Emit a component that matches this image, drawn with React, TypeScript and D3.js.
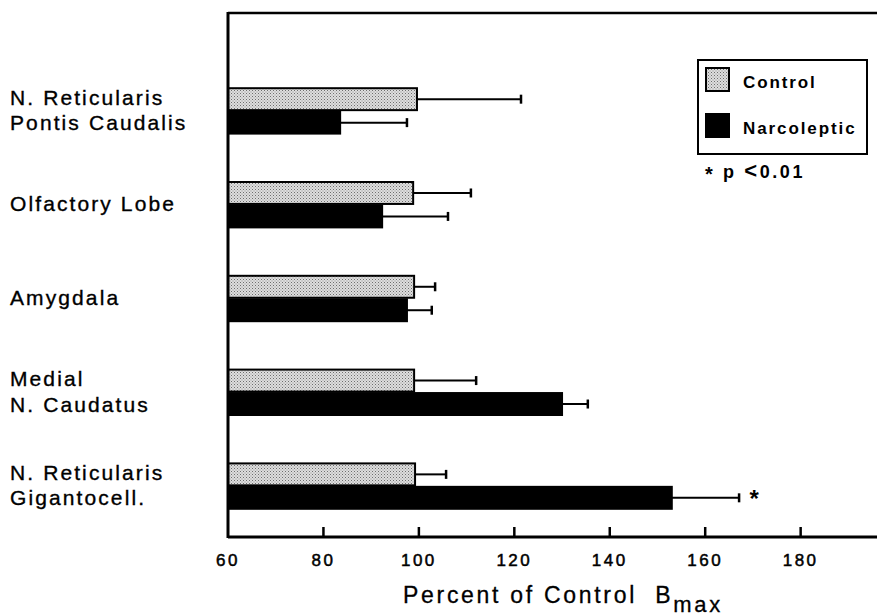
import React from "react";
import * as d3 from "d3";

const categories = [
  ["N. Reticularis", "Pontis Caudalis"],
  ["Olfactory Lobe"],
  ["Amygdala"],
  ["Medial", "N. Caudatus"],
  ["N. Reticularis", "Gigantocell."],
];
const controlValues = [99.6, 98.8, 99.0, 99.0, 99.2];
const controlErrors = [21.8, 12.1, 4.4, 13.0, 6.5];
const narcolepticValues = [83.5, 92.3, 97.5, 130.0, 153.0];
const narcolepticErrors = [14.0, 13.8, 5.2, 5.4, 14.1];
const significant = [false, false, false, false, true];
const xTicks = [60, 80, 100, 120, 140, 160, 180];
const seriesNames = ["Control", "Narcoleptic"];

const W = 877;
const H = 616;
const FONT = "'Liberation Sans', Arial, Helvetica, sans-serif";

export default function App() {
  const x = d3.scaleLinear().domain([60, 196]).range([228, 877]);
  const y = d3
    .scaleBand<number>()
    .domain(d3.range(categories.length))
    .range([64, 533])
    .paddingInner(0.5)
    .paddingOuter(0.25);
  const sub = d3
    .scaleBand<number>()
    .domain([0, 1])
    .range([0, y.bandwidth()]);

  const axisY = 537;
  const topY = 13;
  const x0 = x(60);

  const series = [
    { vals: controlValues, errs: controlErrors, fill: "url(#stipple)" },
    { vals: narcolepticValues, errs: narcolepticErrors, fill: "#000" },
  ];

  return (
    <svg
      width={W}
      height={H}
      style={{ position: "absolute", left: 0, top: 0, background: "#fff" }}
    >
      <defs>
        <pattern id="stipple" width="3" height="3" patternUnits="userSpaceOnUse">
          <rect width="3" height="3" fill="#dedede" />
          <rect x="0" y="0" width="1" height="1" fill="#6e6e6e" />
          <rect x="1.5" y="1.5" width="1" height="1" fill="#8e8e8e" />
        </pattern>
      </defs>
      <rect width={W} height={H} fill="#fff" />

      {/* bars */}
      {categories.map((_, i) => {
        const gy = y(i)!;
        return (
          <g key={i}>
            {series.map((s, j) => {
              const by = gy + sub(j)!;
              const bh = sub.bandwidth();
              const xe = x(s.vals[i]);
              const xc = x(s.vals[i] + s.errs[i]);
              const cy = by + bh / 2;
              return (
                <g key={j}>
                  <line x1={xe} x2={xc} y1={cy} y2={cy} stroke="#000" strokeWidth={2} />
                  <line x1={xc} x2={xc} y1={cy - 4.5} y2={cy + 4.5} stroke="#000" strokeWidth={2.5} />
                  <rect
                    x={x0}
                    y={by + 0.75}
                    width={xe - x0}
                    height={bh - 1.5}
                    fill={s.fill}
                    stroke="#000"
                    strokeWidth={2}
                  />
                </g>
              );
            })}
            {significant[i] && (
              <text
                x={x(narcolepticValues[i] + narcolepticErrors[i]) + 15}
                y={gy + sub(1)! + sub.bandwidth() / 2 + 9}
                fontFamily={FONT}
                fontWeight="bold"
                fontSize={24}
                textAnchor="middle"
              >
                *
              </text>
            )}
          </g>
        );
      })}

      {/* frame */}
      <line x1={x0} x2={W} y1={topY} y2={topY} stroke="#000" strokeWidth={2.5} />
      <line x1={x0} x2={x0} y1={topY - 1} y2={axisY + 1} stroke="#000" strokeWidth={3} />
      <line x1={x0} x2={W} y1={axisY} y2={axisY} stroke="#000" strokeWidth={3} />

      {/* ticks */}
      {xTicks.map((t) => (
        <g key={t}>
          {t !== 60 && (
            <line x1={x(t)} x2={x(t)} y1={axisY} y2={axisY - 10} stroke="#000" strokeWidth={2.5} />
          )}
          <text
            x={x(t)}
            y={566}
            fontFamily={FONT}
            fontSize={17}
            letterSpacing={2.5}
            textAnchor="middle"
            stroke="#000"
            strokeWidth={0.5}
          >
            {t}
          </text>
        </g>
      ))}

      {/* axis title */}
      <text
        x={403}
        y={603}
        fontFamily={FONT}
        fontSize={23}
        letterSpacing={2.7}
        stroke="#000"
        strokeWidth={0.3}
        style={{ whiteSpace: "pre" }}
      >
        {"Percent of Control  B"}
        <tspan dy={9} fontSize={22}>max</tspan>
      </text>

      {/* category labels */}
      {categories.map((lines, i) => {
        const cy = y(i)! + y.bandwidth() / 2 - 1;
        const n = lines.length;
        return lines.map((ln, k) => (
          <text
            key={i + "-" + k}
            x={10}
            y={cy + (k - (n - 1) / 2) * 25.5 + 7.5}
            fontFamily={FONT}
            fontSize={21}
            letterSpacing={2.1}
            stroke="#000"
            strokeWidth={0.35}
          >
            {ln}
          </text>
        ));
      })}

      {/* legend */}
      <rect x={698} y={60} width={169} height={94} fill="#fff" stroke="#000" strokeWidth={2} />
      {seriesNames.map((nm, j) => (
        <g key={nm}>
          <rect
            x={706}
            y={68 + j * 46}
            width={23}
            height={23}
            fill={j === 0 ? "url(#stipple)" : "#000"}
            stroke="#000"
            strokeWidth={2}
          />
          <text
            x={743}
            y={88 + j * 46}
            fontFamily={FONT}
            fontWeight="bold"
            fontSize={17}
            letterSpacing={1.9}
          >
            {nm}
          </text>
        </g>
      ))}
      <text x={705} y={178} fontFamily={FONT} fontSize={18} fontWeight="bold" letterSpacing={2.6} style={{ whiteSpace: "pre" }}>
        <tspan fontSize={20} dy={3}>*</tspan>
        <tspan dy={-3}>{" p "}</tspan>
        <tspan fontSize={22}>&lt;</tspan>
        <tspan>0.01</tspan>
      </text>
    </svg>
  );
}
